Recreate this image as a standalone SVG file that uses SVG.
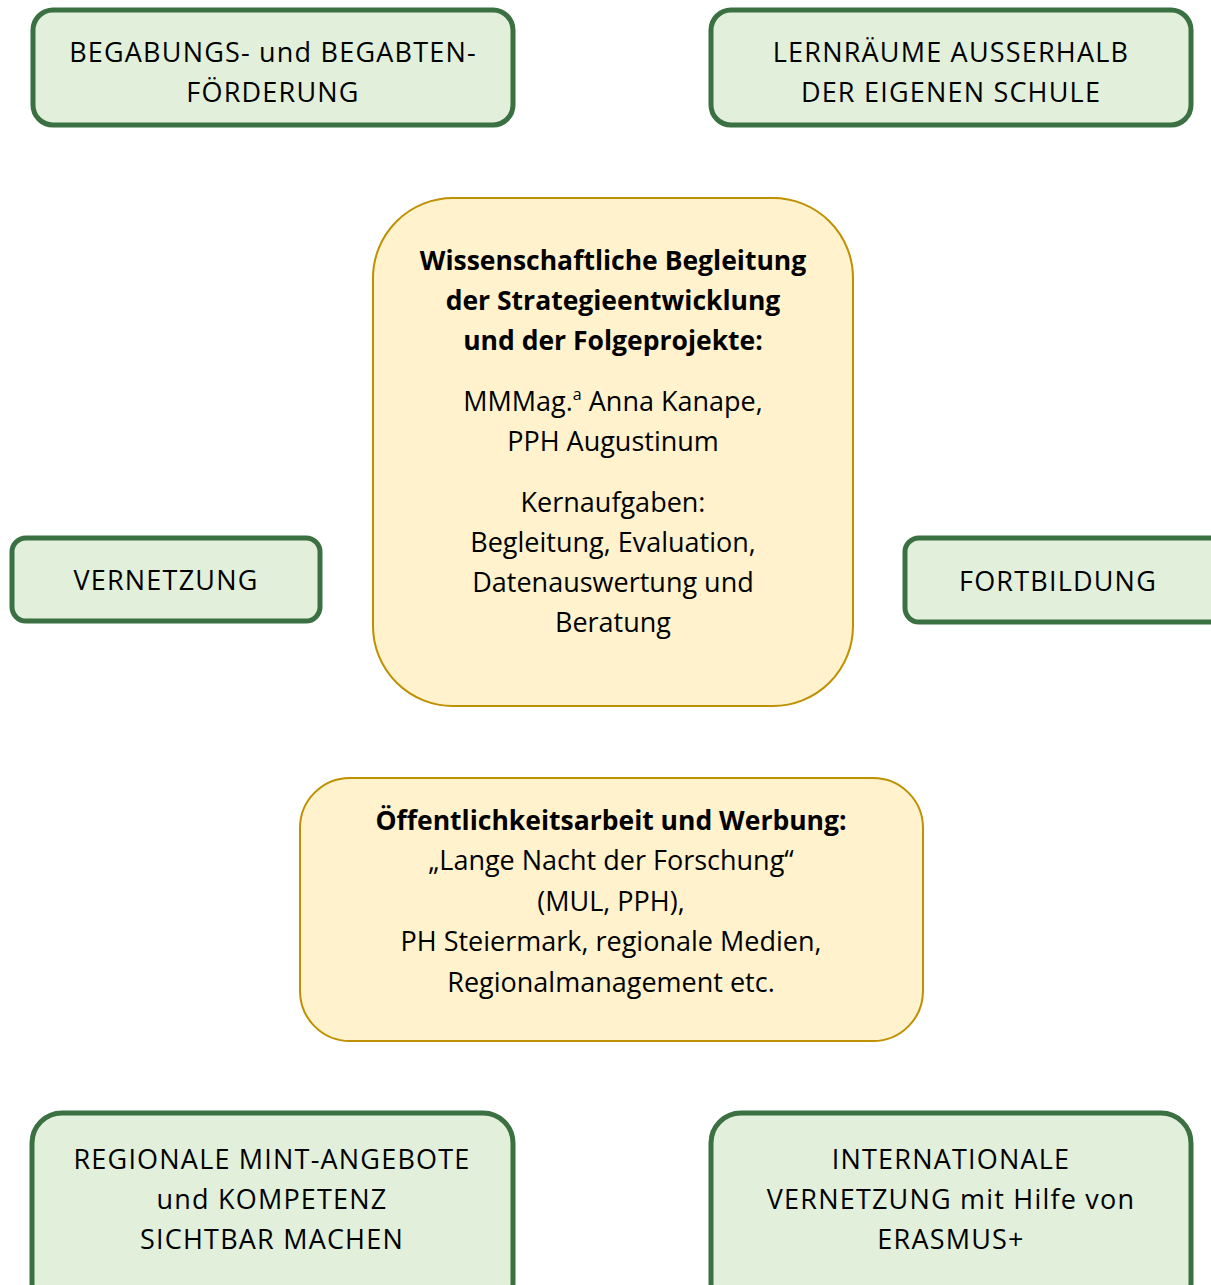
<svg xmlns="http://www.w3.org/2000/svg" width="1211" height="1285" viewBox="0 0 1211 1285">
<defs>
<style>
.g{fill:#e2efda;stroke:#3b7142;stroke-width:5}
.y{fill:#fff2cc;stroke:#bf9000;stroke-width:2}
text{font-family:"Open Sans","Noto Sans",sans-serif;font-size:27px;fill:#000;text-anchor:middle}
.t{letter-spacing:1.2px}
.b{font-weight:bold;font-size:26.5px}
</style>
</defs>
<rect width="1211" height="1285" fill="#fff"/>
<g id="connectors"></g>
<g id="n1"><rect class="g" x="33" y="10" width="480" height="115" rx="20"/>
<text class="t" x="273" y="62">BEGABUNGS- und BEGABTEN-</text><text class="t" x="273" y="102">FÖRDERUNG</text></g>
<g id="n2"><rect class="g" x="711" y="10" width="480" height="115" rx="20"/>
<text class="t" x="951" y="62">LERNRÄUME AUSSERHALB</text><text class="t" x="951" y="102">DER EIGENEN SCHULE</text></g>
<g id="n3"><rect class="y" x="373" y="198" width="480" height="508" rx="80"/>
<text class="b" x="613" y="270">Wissenschaftliche Begleitung</text>
<text class="b" x="613" y="310">der Strategieentwicklung</text>
<text class="b" x="613" y="350">und der Folgeprojekte:</text>
<text x="613" y="411">MMMag.<tspan font-size="16" dy="-11">a</tspan><tspan dy="11"> Anna Kanape,</tspan></text>
<text x="613" y="451">PPH Augustinum</text>
<text x="613" y="512">Kernaufgaben:</text>
<text x="613" y="552">Begleitung, Evaluation,</text>
<text x="613" y="592">Datenauswertung und</text>
<text x="613" y="632">Beratung</text></g>
<g id="n4"><rect class="g" x="12" y="538" width="308" height="83" rx="14"/>
<text class="t" x="166" y="590">VERNETZUNG</text></g>
<g id="n5"><rect class="g" x="905" y="538" width="320" height="84" rx="14"/>
<text class="t" x="1058" y="591">FORTBILDUNG</text></g>
<g id="n6"><rect class="y" x="300" y="778" width="623" height="263" rx="50"/>
<text class="b" x="611" y="830">Öffentlichkeitsarbeit und Werbung:</text>
<text x="611" y="870">„Lange Nacht der Forschung“</text>
<text x="611" y="911">(MUL, PPH),</text>
<text x="611" y="951">PH Steiermark, regionale Medien,</text>
<text x="611" y="992">Regionalmanagement etc.</text></g>
<g id="n7"><rect class="g" x="32" y="1113" width="481" height="200" rx="30"/>
<text class="t" x="272" y="1169">REGIONALE MINT-ANGEBOTE</text>
<text class="t" x="272" y="1209">und KOMPETENZ</text>
<text class="t" x="272" y="1249">SICHTBAR MACHEN</text></g>
<g id="n8"><rect class="g" x="711" y="1113" width="480" height="200" rx="30"/>
<text class="t" x="951" y="1169">INTERNATIONALE</text>
<text class="t" x="951" y="1209">VERNETZUNG mit Hilfe von</text>
<text class="t" x="951" y="1249">ERASMUS+</text></g>
</svg>
